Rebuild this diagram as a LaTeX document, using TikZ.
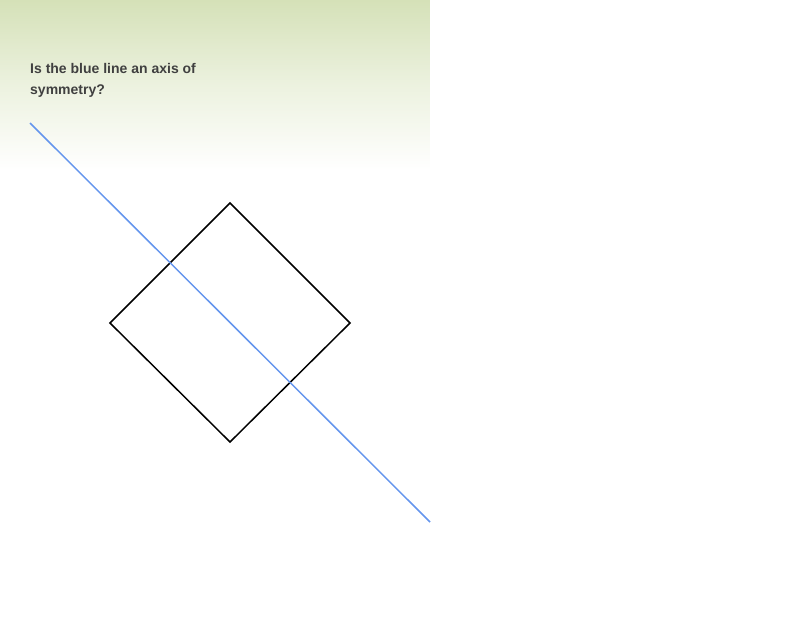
\documentclass[tikz,border=0pt]{standalone}
\usepackage{fontspec}
\setmainfont{Liberation Sans}
\definecolor{bgtop}{RGB}{213,225,184}
\definecolor{axisblue}{RGB}{100,149,237}
\definecolor{qgray}{RGB}{64,64,64}
\tikzset{
  question/.style={anchor=north west, align=left, font=\bfseries\fontsize{14}{21.5}\selectfont, text=qgray, inner sep=0pt},
  axisline/.style={axisblue, line width=1.5pt},
  figure/.style={black, line width=1.5pt, line join=miter}
}
\begin{document}
\begin{tikzpicture}[x=1pt, y=-1pt]
        \useasboundingbox (0,0) rectangle (800,619);
        % Nền chuyển màu
        \shade[top color=bgtop, bottom color=white, middle color=bgtop!45] (0,0) rectangle (430,170);
        \fill[white] (430,0) rectangle (800,619);

        % Câu hỏi
        \node[question] (q) at (30,63) {Is the blue line an axis of\\symmetry?};

        % Hình vuông
        \draw[figure] (230,203) -- (350,323) -- (230,442) -- (110,323) -- cycle;

        % Đường màu xanh
        \coordinate (a) at (30,123);
        \coordinate (b) at (430,522);
        \draw[axisline] (a) -- (b);
    \end{tikzpicture}
\end{document}
